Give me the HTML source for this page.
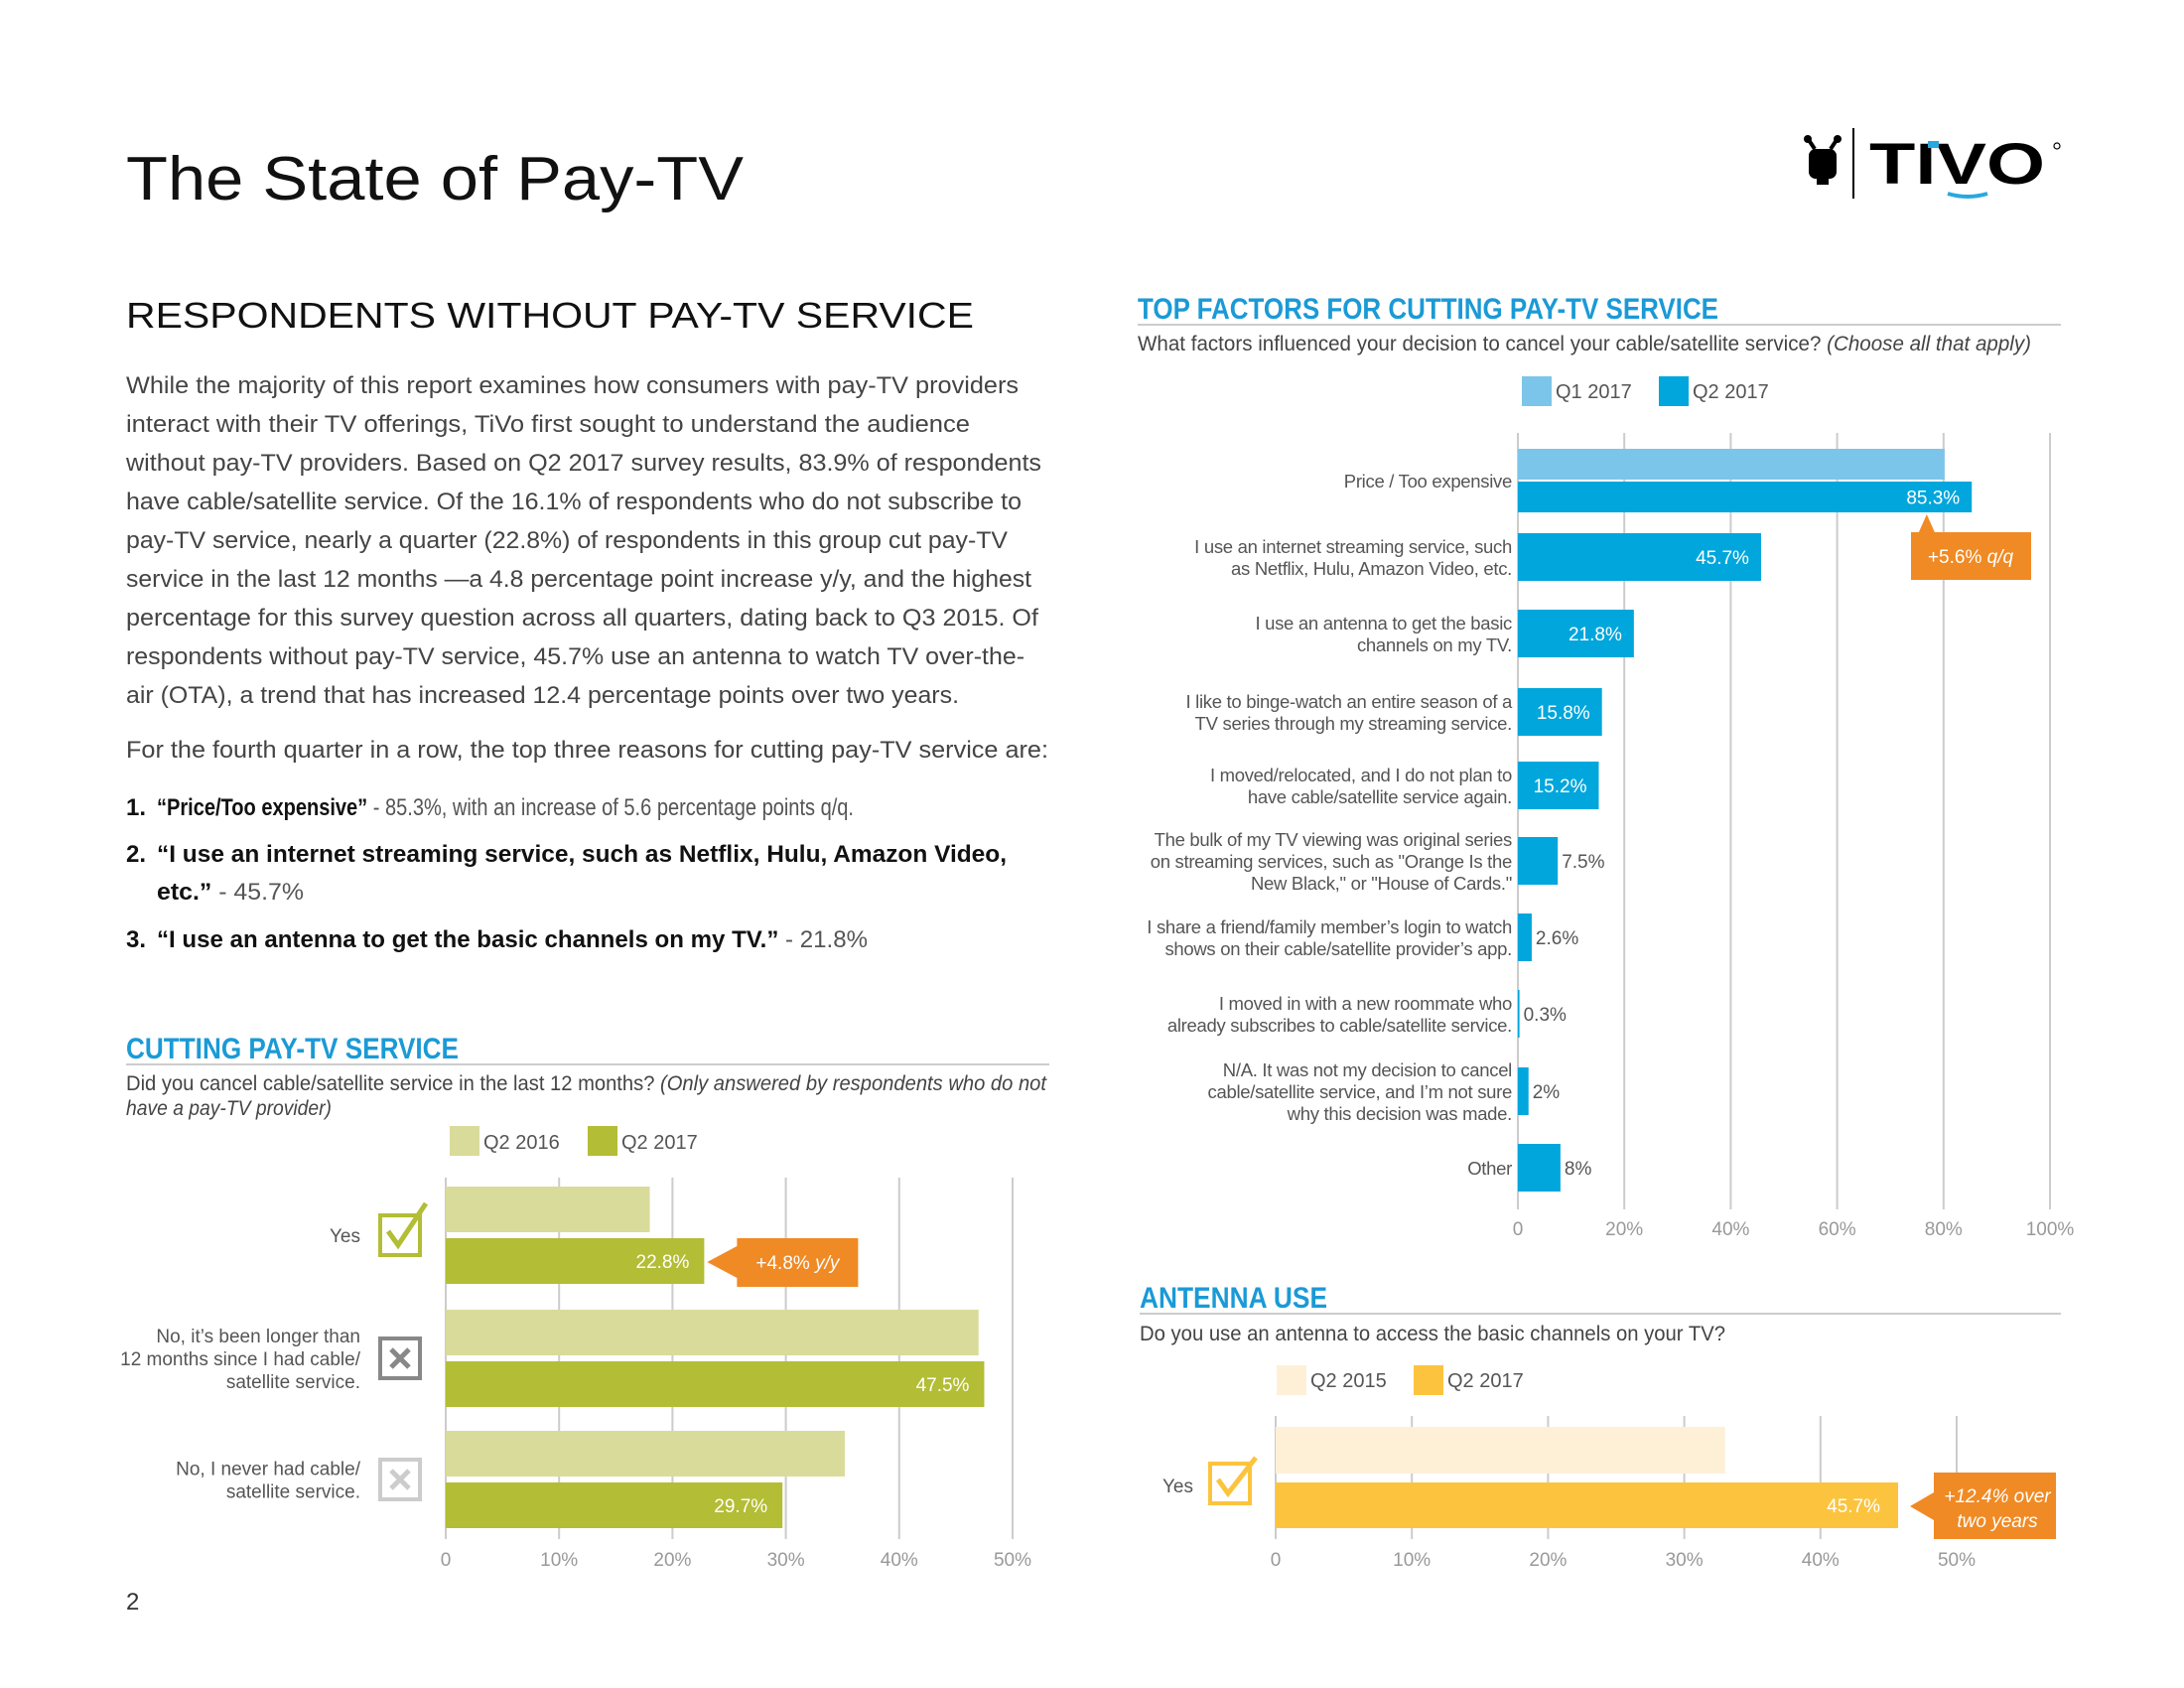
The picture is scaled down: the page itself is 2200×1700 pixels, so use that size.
<!DOCTYPE html>
<html><head><meta charset="utf-8"><style>
html,body{margin:0;padding:0;background:#fff;}
svg{display:block;font-family:"Liberation Sans",sans-serif;}
</style></head><body>
<svg id="page" width="2200" height="1700" viewBox="0 0 2200 1700" xmlns="http://www.w3.org/2000/svg">
<text x="127" y="201" font-size="62" fill="#111" textLength="622" lengthAdjust="spacingAndGlyphs">The State of Pay-TV</text>
<g>
  <rect x="1822" y="150" width="28" height="30" rx="7" fill="#000"/>
  <line x1="1828" y1="150" x2="1822" y2="141" stroke="#000" stroke-width="4"/>
  <line x1="1844" y1="150" x2="1850" y2="141" stroke="#000" stroke-width="4"/>
  <circle cx="1821" cy="140" r="4" fill="#000"/><circle cx="1851" cy="140" r="4" fill="#000"/>
  <rect x="1830" y="180" width="12" height="6" fill="#000"/>
  <line x1="1867" y1="129" x2="1867" y2="200" stroke="#000" stroke-width="2"/>
  <text x="1883" y="185" font-size="58" font-weight="bold" fill="#000" textLength="177" lengthAdjust="spacingAndGlyphs">TIVO</text>
  <rect x="1942" y="142" width="11" height="7" fill="#29a8e0"/>
  <path d="M1962 195 Q1982 201 2002 195" stroke="#29a8e0" stroke-width="4" fill="none"/>
  <circle cx="2072" cy="147" r="3" fill="none" stroke="#000" stroke-width="1.2"/>
</g>
<text x="127" y="330" font-size="36" fill="#111" textLength="854" lengthAdjust="spacingAndGlyphs">RESPONDENTS WITHOUT PAY-TV SERVICE</text>
<g font-size="24" fill="#444">
<text x="127" y="396" textLength="899" lengthAdjust="spacingAndGlyphs">While the majority of this report examines how consumers with pay-TV providers</text>
<text x="127" y="435" textLength="850" lengthAdjust="spacingAndGlyphs">interact with their TV offerings, TiVo first sought to understand the audience</text>
<text x="127" y="474" textLength="922" lengthAdjust="spacingAndGlyphs">without pay-TV providers. Based on Q2 2017 survey results, 83.9% of respondents</text>
<text x="127" y="513" textLength="902" lengthAdjust="spacingAndGlyphs">have cable/satellite service. Of the 16.1% of respondents who do not subscribe to</text>
<text x="127" y="552" textLength="888" lengthAdjust="spacingAndGlyphs">pay-TV service, nearly a quarter (22.8%) of respondents in this group cut pay-TV</text>
<text x="127" y="591" textLength="912" lengthAdjust="spacingAndGlyphs">service in the last 12 months —a 4.8 percentage point increase y/y, and the highest</text>
<text x="127" y="630" textLength="919" lengthAdjust="spacingAndGlyphs">percentage for this survey question across all quarters, dating back to Q3 2015. Of</text>
<text x="127" y="669" textLength="905" lengthAdjust="spacingAndGlyphs">respondents without pay-TV service, 45.7% use an antenna to watch TV over-the-</text>
<text x="127" y="708" textLength="839" lengthAdjust="spacingAndGlyphs">air (OTA), a trend that has increased 12.4 percentage points over two years.</text>
<text x="127" y="763" textLength="929" lengthAdjust="spacingAndGlyphs">For the fourth quarter in a row, the top three reasons for cutting pay-TV service are:</text>
</g>
<g font-size="24" fill="#111">
<text x="127" y="821" font-weight="bold">1.</text>
<text x="158" y="821" textLength="702" lengthAdjust="spacingAndGlyphs"><tspan font-weight="bold">“Price/Too expensive”</tspan><tspan fill="#555"> - 85.3%, with an increase of 5.6 percentage points q/q.</tspan></text>
<text x="127" y="868" font-weight="bold">2.</text>
<text x="158" y="868" font-weight="bold" textLength="856" lengthAdjust="spacingAndGlyphs">“I use an internet streaming service, such as Netflix, Hulu, Amazon Video,</text>
<text x="158" y="906" textLength="148" lengthAdjust="spacingAndGlyphs"><tspan font-weight="bold">etc.”</tspan><tspan fill="#555"> - 45.7%</tspan></text>
<text x="127" y="954" font-weight="bold">3.</text>
<text x="158" y="954" textLength="716" lengthAdjust="spacingAndGlyphs"><tspan font-weight="bold">“I use an antenna to get the basic channels on my TV.”</tspan><tspan fill="#555"> - 21.8%</tspan></text>
</g>
<text x="127" y="1066" font-size="30" font-weight="bold" fill="#1a9ad6" textLength="335" lengthAdjust="spacingAndGlyphs">CUTTING PAY-TV SERVICE</text>
<line x1="127" y1="1072" x2="1057" y2="1072" stroke="#ccc" stroke-width="2"/>
<text x="127" y="1098" font-size="21" fill="#444" textLength="927" lengthAdjust="spacingAndGlyphs">Did you cancel cable/satellite service in the last 12 months? <tspan font-style="italic">(Only answered by respondents who do not</tspan></text>
<text x="127" y="1123" font-size="21" fill="#444" font-style="italic" textLength="207" lengthAdjust="spacingAndGlyphs">have a pay-TV provider)</text>
<text x="1146" y="321" font-size="30" font-weight="bold" fill="#1a9ad6" textLength="585" lengthAdjust="spacingAndGlyphs">TOP FACTORS FOR CUTTING PAY-TV SERVICE</text>
<line x1="1146" y1="327" x2="2076" y2="327" stroke="#ccc" stroke-width="2"/>
<text x="1146" y="353" font-size="21" fill="#444" textLength="900" lengthAdjust="spacingAndGlyphs">What factors influenced your decision to cancel your cable/satellite service? <tspan font-style="italic">(Choose all that apply)</tspan></text>
<text x="1148" y="1317" font-size="30" font-weight="bold" fill="#1a9ad6" textLength="189" lengthAdjust="spacingAndGlyphs">ANTENNA USE</text>
<line x1="1148" y1="1323" x2="2076" y2="1323" stroke="#ccc" stroke-width="2"/>
<text x="1148" y="1350" font-size="21" fill="#444" textLength="590" lengthAdjust="spacingAndGlyphs">Do you use an antenna to access the basic channels on your TV?</text>
<text x="127" y="1621" font-size="24" fill="#333">2</text>
<g id="charts"></g>
</svg>
<script>
// ---- data ----
const cutCategories = [["Yes"], ["No, it’s been longer than", "12 months since I had cable/", "satellite service."], ["No, I never had cable/", "satellite service."]];
const cutQ2016 = [18, 47, 35.2];
const cutQ2017 = [22.8, 47.5, 29.7];
const cutTicks = ["0", "10%", "20%", "30%", "40%", "50%"];

const factorCategories = [
  ["Price / Too expensive"],
  ["I use an internet streaming service, such", "as Netflix, Hulu, Amazon Video, etc."],
  ["I use an antenna to get the basic", "channels on my TV."],
  ["I like to binge-watch an entire season of a", "TV series through my streaming service."],
  ["I moved/relocated, and I do not plan to", "have cable/satellite service again."],
  ["The bulk of my TV viewing was original series", "on streaming services, such as \"Orange Is the", "New Black,\" or \"House of Cards.\""],
  ["I share a friend/family member’s login to watch", "shows on their cable/satellite provider’s app."],
  ["I moved in with a new roommate who", "already subscribes to cable/satellite service."],
  ["N/A. It was not my decision to cancel", "cable/satellite service, and I’m not sure", "why this decision was made."],
  ["Other"]
];
const factorQ1 = [80.2];
const factorQ2 = [85.3, 45.7, 21.8, 15.8, 15.2, 7.5, 2.6, 0.3, 2, 8];
const factorLabels = ["85.3%", "45.7%", "21.8%", "15.8%", "15.2%", "7.5%", "2.6%", "0.3%", "2%", "8%"];
const factorTicks = ["0", "20%", "40%", "60%", "80%", "100%"];

const antennaCategories = ["Yes"];
const antennaQ2015 = [33.0];
const antennaQ2017 = [45.7];
const antennaTicks = ["0", "10%", "20%", "30%", "40%", "50%"];

const NS = "http://www.w3.org/2000/svg";
const root = document.getElementById("charts");
function mk(tag, attrs, parent, txt) {
  const e = document.createElementNS(NS, tag);
  for (const k in attrs) e.setAttribute(k, attrs[k]);
  if (txt !== undefined) e.textContent = txt;
  (parent || root).appendChild(e);
  return e;
}

// ---- Cutting chart ----
(function () {
  const g = mk("g", {});
  
  
  const x0 = 449, unit = 11.42;
  const xs = v => x0 + v * unit;
  cutTicks.forEach((t, i) => {
    const x = xs(i * 10);
    const l = mk("line", { x1: x, y1: 1186, x2: x, y2: 1550, stroke: "#ccc", "stroke-width": 2 }, g);
    
    
    const tx = mk("text", { x: x, y: 1577, "font-size": 19, fill: "#999", "text-anchor": "middle" }, g, t);
    
    
  });
  [["Q2 2016", "#d9db9a", 453], ["Q2 2017", "#b3bd35", 592]].forEach(([lab, c, x]) => {
    const s = mk("rect", { x: x, y: 1134, width: 30, height: 30, fill: c }, g);
    
    
    const t = mk("text", { x: x + 34, y: 1157, "font-size": 20, fill: "#555" }, g, lab);
    
    
  });
  const groupTop = [1195, 1319, 1441], bh = 46;
  cutCategories.forEach((cat, i) => {
    const y = groupTop[i];
    const b1 = mk("rect", { x: x0, y: y, width: xs(cutQ2016[i]) - x0, height: bh, fill: "#d9db9a" }, g);
    
    
    const b2 = mk("rect", { x: x0, y: y + 52, width: xs(cutQ2017[i]) - x0, height: bh, fill: "#b3bd35" }, g);
    
    
    const vl = mk("text", { x: xs(cutQ2017[i]) - 15, y: y + 52 + 30, "font-size": 19, fill: "#fff", "text-anchor": "end" }, g, cutQ2017[i] + "%");
    
    
    const cy = y + 49;
    const n = cat.length;
    cat.forEach((line, j) => {
      const t = mk("text", { x: 363, y: cy + 7 + (j - (n - 1) / 2) * 23, "font-size": 19, fill: "#555", "text-anchor": "end" }, g, line);
      
      
    });
    const ic = mk("g", {}, g);
    
    
    const col = i === 0 ? "#b3bd35" : (i === 1 ? "#888" : "#ccc");
    mk("rect", { x: 383, y: cy - 20, width: 40, height: 40, fill: "none", stroke: col, "stroke-width": 4 }, ic);
    if (i === 0) {
      mk("path", { d: `M391 ${cy - 4} L401 ${cy + 10} L429 ${cy - 32}`, fill: "none", stroke: col, "stroke-width": 5 }, ic);
    } else {
      mk("path", { d: `M394 ${cy - 9} L412 ${cy + 9} M412 ${cy - 9} L394 ${cy + 9}`, stroke: col, "stroke-width": 5 }, ic);
    }
  });
  const yb = groupTop[0] + 52;
  const x1 = xs(cutQ2017[0]) + 3;
  const co = mk("g", {}, g);
  
  
  mk("path", { d: `M${x1} ${yb + 24} L${x1 + 30} ${yb + 8} L${x1 + 30} ${yb} L${x1 + 152} ${yb} L${x1 + 152} ${yb + 49} L${x1 + 30} ${yb + 49} L${x1 + 30} ${yb + 40} Z`, fill: "#f08a24" }, co);
  const t = mk("text", { x: x1 + 91, y: yb + 31, "font-size": 19, fill: "#fff", "text-anchor": "middle" }, co, "+4.8% ");
  mk("tspan", { "font-style": "italic" }, t, "y/y");
})();

// ---- Factors chart ----
(function () {
  const g = mk("g", {});
  
  
  const x0 = 1529, unit = 107.2 / 20;
  const xs = v => x0 + v * unit;
  factorTicks.forEach((t, i) => {
    const x = xs(i * 20);
    const l = mk("line", { x1: x, y1: 436, x2: x, y2: 1218, stroke: "#ccc", "stroke-width": 2 }, g);
    
    
    const tx = mk("text", { x: x, y: 1244, "font-size": 19, fill: "#999", "text-anchor": "middle" }, g, t);
    
    
  });
  [["Q1 2017", "#7cc5ea", 1533], ["Q2 2017", "#00a6dc", 1671]].forEach(([lab, c, x]) => {
    const s = mk("rect", { x: x, y: 379, width: 30, height: 30, fill: c }, g);
    
    
    const t = mk("text", { x: x + 34, y: 401, "font-size": 20, fill: "#555" }, g, lab);
    
    
  });
  const centers = [484, 561, 638, 717, 791, 867, 944, 1021, 1099, 1176];
  factorCategories.forEach((cat, i) => {
    const c = centers[i];
    let by = c - 24, bh = 48;
    if (i === 0) {
      const q1 = mk("rect", { x: x0, y: 452, width: xs(factorQ1[0]) - x0, height: 31, fill: "#7cc5ea" }, g);
      
      
      by = 485; bh = 31;
    }
    const b = mk("rect", { x: x0, y: by, width: Math.max(xs(factorQ2[i]) - x0, 1.5), height: bh, fill: "#00a6dc" }, g);
    
    
    const inside = factorQ2[i] >= 15;
    const vy = by + bh / 2 + 7;
    const vl = mk("text", inside
      ? { x: xs(factorQ2[i]) - 12, y: vy, "font-size": 19, fill: "#fff", "text-anchor": "end" }
      : { x: xs(factorQ2[i]) + 4, y: vy, "font-size": 19, fill: "#555" }, g, factorLabels[i]);
    
    
    const n = cat.length;
    cat.forEach((line, j) => {
      const t = mk("text", { x: 1523, y: c + 7 + (j - (n - 1) / 2) * 22, "font-size": 18.5, fill: "#555", "text-anchor": "end", "letter-spacing": "-0.3" }, g, line);
      
      
    });
  });
  const ax = xs(factorQ1[0]) - 18;
  const co = mk("g", {}, g);
  
  
  mk("path", { d: `M1925 536 L${ax - 8} 536 L${ax} 518 L${ax + 8} 536 L2046 536 L2046 584 L1925 584 Z`, fill: "#f08a24" }, co);
  const t = mk("text", { x: 1985, y: 567, "font-size": 19, fill: "#fff", "text-anchor": "middle" }, co, "+5.6% ");
  mk("tspan", { "font-style": "italic" }, t, "q/q");
})();

// ---- Antenna chart ----
(function () {
  const g = mk("g", {});
  
  
  const x0 = 1285, unit = 13.72;
  const xs = v => x0 + v * unit;
  antennaTicks.forEach((t, i) => {
    const x = xs(i * 10);
    const l = mk("line", { x1: x, y1: 1426, x2: x, y2: 1550, stroke: "#ccc", "stroke-width": 2 }, g);
    
    
    const tx = mk("text", { x: x, y: 1577, "font-size": 19, fill: "#999", "text-anchor": "middle" }, g, t);
    
    
  });
  [["Q2 2015", "#fdf0d7", 1286], ["Q2 2017", "#fcc43e", 1424]].forEach(([lab, c, x]) => {
    const s = mk("rect", { x: x, y: 1375, width: 30, height: 30, fill: c }, g);
    
    
    const t = mk("text", { x: x + 34, y: 1397, "font-size": 20, fill: "#555" }, g, lab);
    
    
  });
  antennaCategories.forEach((cat, i) => {
    const b1 = mk("rect", { x: x0, y: 1437, width: xs(antennaQ2015[i]) - x0, height: 47, fill: "#fdf0d7" }, g);
    
    
    const b2 = mk("rect", { x: x0, y: 1493, width: xs(antennaQ2017[i]) - x0, height: 46, fill: "#fcc43e" }, g);
    
    
    const vl = mk("text", { x: xs(antennaQ2017[i]) - 18, y: 1523, "font-size": 19, fill: "#fff", "text-anchor": "end" }, g, antennaQ2017[i] + "%");
    
    
    const lab = mk("text", { x: 1202, y: 1503, "font-size": 19, fill: "#555", "text-anchor": "end" }, g, cat);
    
    
    const ic = mk("g", {}, g);
    
    
    mk("rect", { x: 1219, y: 1474, width: 40, height: 40, fill: "none", stroke: "#fcc43e", "stroke-width": 4 }, ic);
    mk("path", { d: "M1227 1490 L1237 1504 L1265 1468", fill: "none", stroke: "#fcc43e", "stroke-width": 5 }, ic);
    const bx = xs(antennaQ2017[i]) + 12;
    const co = mk("g", {}, g);
    
    
    mk("path", { d: `M${bx} 1517 L${bx + 24} 1503 L${bx + 24} 1483 L2071 1483 L2071 1550 L${bx + 24} 1550 L${bx + 24} 1531 Z`, fill: "#f08a24" }, co);
    mk("text", { x: 2012, y: 1513, "font-size": 19, fill: "#fff", "text-anchor": "middle", "font-style": "italic" }, co, "+12.4% over");
    mk("text", { x: 2012, y: 1538, "font-size": 19, fill: "#fff", "text-anchor": "middle", "font-style": "italic" }, co, "two years");
  });
})();
</script>
</body></html>
